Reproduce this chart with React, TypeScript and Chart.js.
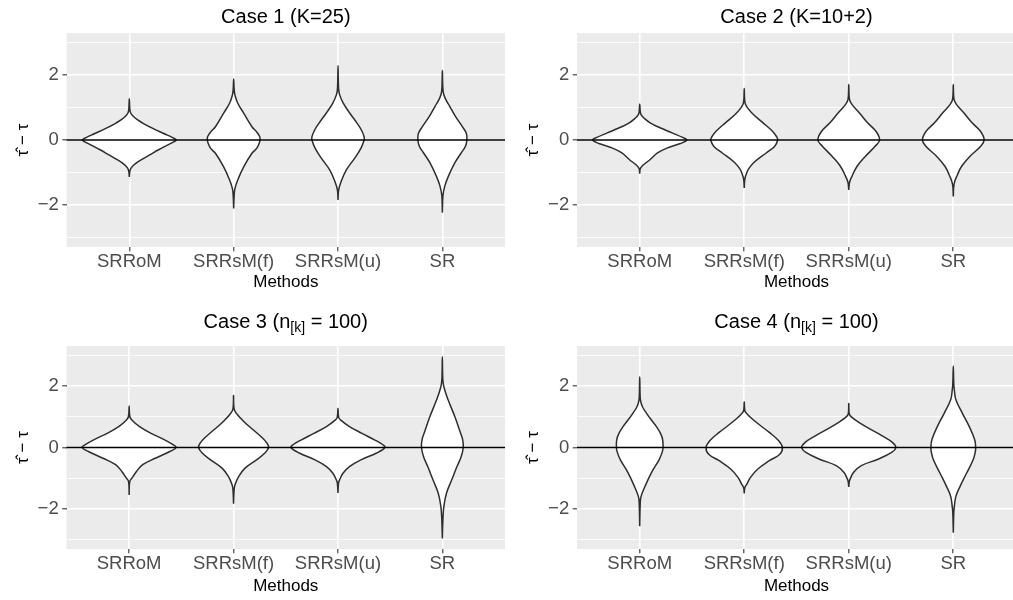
import React, { useEffect, useRef } from 'react';
import { Chart, registerables } from 'chart.js';

Chart.register(...registerables);

const FONT = '"Liberation Sans", Arial, Helvetica, sans-serif';

// ---- data ----
const METHODS = ['SRRoM', 'SRRsM(f)', 'SRRsM(u)', 'SR'];
const Y_TICKS = [-3, -2, -1, 0, 1, 2, 3];
const Y_LABELED = [-2, 0, 2];
const Y_MIN = -3.3;
const Y_MAX = 3.3;
const REF_VALUE = 0;
const Y_TITLE = '\u03C4\u0302 \u2212 \u03C4';
const X_TITLE = 'Methods';

// violin profiles: [value, half-width (category units)], bottom tip -> top tip
const CASE1_SRROM = [[-1.14, 0], [-0.95, 0.006], [-0.86, 0.018], [-0.75, 0.05], [-0.6, 0.12], [-0.45, 0.2], [-0.3, 0.28], [-0.15, 0.37], [-0.05, 0.43], [0, 0.45], [0.08, 0.41], [0.2, 0.33], [0.35, 0.23], [0.5, 0.14], [0.62, 0.08], [0.74, 0.035], [0.84, 0.012], [0.95, 0.005], [1.27, 0]];
const CASE1_SRRSMF = [[-2.11, 0], [-1.7, 0.005], [-1.5, 0.012], [-1.24, 0.038], [-0.83, 0.096], [-0.41, 0.175], [-0.26, 0.22], [-0.1, 0.245], [0, 0.252], [0.1, 0.25], [0.25, 0.22], [0.41, 0.175], [0.83, 0.096], [1.14, 0.038], [1.39, 0.012], [1.55, 0.005], [1.88, 0]];
const CASE1_SRRSMU = [[-1.85, 0], [-1.54, 0.006], [-1.28, 0.03], [-0.92, 0.08], [-0.56, 0.16], [-0.25, 0.22], [0, 0.25], [0.1, 0.25], [0.3, 0.225], [0.53, 0.18], [0.84, 0.11], [1.14, 0.05], [1.4, 0.015], [1.6, 0.005], [2.3, 0]];
const CASE1_SR = [[-2.24, 0], [-1.7, 0.006], [-1.4, 0.025], [-1.1, 0.06], [-0.7, 0.12], [-0.4, 0.18], [-0.2, 0.22], [0, 0.235], [0.2, 0.23], [0.42, 0.19], [0.73, 0.125], [1.04, 0.07], [1.3, 0.025], [1.5, 0.007], [2.14, 0]];

const CASE2_SRROM = [[-1.04, 0], [-0.88, 0.006], [-0.78, 0.03], [-0.6, 0.1], [-0.4, 0.17], [-0.25, 0.26], [-0.11, 0.39], [0, 0.45], [0.08, 0.41], [0.22, 0.31], [0.37, 0.2], [0.53, 0.1], [0.68, 0.04], [0.78, 0.013], [0.88, 0.005], [1.11, 0]];
const CASE2_SRRSMF = [[-1.48, 0], [-1.2, 0.006], [-1.05, 0.02], [-0.9, 0.04], [-0.7, 0.09], [-0.4, 0.21], [-0.2, 0.29], [0, 0.32], [0.1, 0.31], [0.27, 0.27], [0.53, 0.18], [0.78, 0.09], [1.0, 0.03], [1.15, 0.007], [1.59, 0]];
const CASE2_SRRSMU = [[-1.54, 0], [-1.3, 0.008], [-1.12, 0.03], [-0.81, 0.08], [-0.5, 0.16], [-0.2, 0.25], [0, 0.295], [0.27, 0.26], [0.53, 0.18], [0.84, 0.1], [1.1, 0.03], [1.25, 0.007], [1.71, 0]];
const CASE2_SR = [[-1.74, 0], [-1.35, 0.008], [-1.07, 0.04], [-0.81, 0.08], [-0.5, 0.16], [-0.2, 0.26], [0, 0.295], [0.27, 0.26], [0.53, 0.18], [0.84, 0.1], [1.1, 0.03], [1.25, 0.007], [1.71, 0]];

const CASE3_SRROM = [[-1.54, 0], [-1.1, 0.006], [-0.98, 0.03], [-0.78, 0.07], [-0.56, 0.13], [-0.35, 0.25], [-0.13, 0.39], [0, 0.45], [0.09, 0.42], [0.25, 0.34], [0.46, 0.21], [0.68, 0.1], [0.88, 0.03], [1.0, 0.007], [1.35, 0]];
const CASE3_SRRSMF = [[-1.83, 0], [-1.35, 0.006], [-1.2, 0.015], [-0.94, 0.05], [-0.67, 0.11], [-0.4, 0.22], [-0.18, 0.3], [0, 0.335], [0.14, 0.32], [0.3, 0.28], [0.57, 0.19], [0.84, 0.1], [1.1, 0.03], [1.25, 0.006], [1.69, 0]];
const CASE3_SRRSMU = [[-1.48, 0], [-1.15, 0.006], [-1.05, 0.016], [-0.83, 0.05], [-0.62, 0.11], [-0.4, 0.22], [-0.18, 0.37], [0, 0.45], [0.09, 0.43], [0.25, 0.35], [0.46, 0.23], [0.68, 0.11], [0.88, 0.03], [0.98, 0.007], [1.28, 0]];
const CASE3_SR = [[-2.96, 0], [-2.3, 0.006], [-1.9, 0.015], [-1.48, 0.04], [-1.05, 0.09], [-0.62, 0.14], [-0.3, 0.18], [0, 0.2], [0.25, 0.195], [0.46, 0.175], [1.0, 0.12], [1.55, 0.055], [1.95, 0.016], [2.2, 0.005], [2.95, 0]];

const CASE4_SRROM = [[-2.56, 0], [-1.8, 0.005], [-1.59, 0.013], [-1.27, 0.05], [-0.83, 0.11], [-0.4, 0.185], [-0.15, 0.215], [0, 0.223], [0.25, 0.22], [0.45, 0.2], [0.68, 0.16], [0.9, 0.11], [1.12, 0.064], [1.3, 0.03], [1.44, 0.014], [1.6, 0.005], [2.3, 0]];
const CASE4_SRRSMF = [[-1.49, 0], [-1.3, 0.006], [-1.19, 0.025], [-0.97, 0.06], [-0.7, 0.13], [-0.43, 0.24], [-0.22, 0.34], [0, 0.365], [0.22, 0.33], [0.49, 0.24], [0.7, 0.16], [0.92, 0.08], [1.1, 0.025], [1.2, 0.006], [1.49, 0]];
const CASE4_SRRSMU = [[-1.28, 0], [-1.1, 0.006], [-1.03, 0.013], [-0.81, 0.045], [-0.59, 0.12], [-0.38, 0.28], [-0.16, 0.41], [0, 0.45], [0.16, 0.42], [0.38, 0.32], [0.59, 0.21], [0.81, 0.1], [0.98, 0.03], [1.08, 0.006], [1.43, 0]];
const CASE4_SR = [[-2.77, 0], [-2.1, 0.005], [-1.92, 0.01], [-1.59, 0.025], [-1.27, 0.064], [-0.83, 0.128], [-0.4, 0.19], [-0.15, 0.21], [0, 0.214], [0.25, 0.205], [0.68, 0.153], [1.12, 0.086], [1.55, 0.025], [1.87, 0.01], [2.05, 0.005], [2.65, 0]];

type Part = { text: string; sub?: boolean };

const TITLE1: Part[] = [{ text: 'Case 1 (K=25)' }];
const TITLE2: Part[] = [{ text: 'Case 2 (K=10+2)' }];
const TITLE3: Part[] = [{ text: 'Case 3 (' }, { text: 'n' }, { text: '[k]', sub: true }, { text: ' = 100)' }];
const TITLE4: Part[] = [{ text: 'Case 4 (' }, { text: 'n' }, { text: '[k]', sub: true }, { text: ' = 100)' }];

interface Area { left: number; right: number; top: number; bottom: number }
interface PanelSpec {
  title: Part[];
  titleBaseline: number;
  profiles: number[][][];
  left: number;
  top: number;
  width: number;
  height: number;
  area: Area;
  yTitlePad: number;
  xTitlePad: number;
}

function violinPoints(profile: number[][], pos: number) {
  const right = profile.map(([v, w]) => ({ x: pos + w, y: v }));
  const left = profile
    .slice(0, -1)
    .reverse()
    .map(([v, w]) => ({ x: pos - w, y: v }));
  return right.concat(left);
}

const fmtTick = (v: number) => (v < 0 ? '\u2212' + Math.abs(v) : String(v));

const bgPlugin = {
  id: 'panelBg',
  beforeDraw(chart: any) {
    const { ctx, chartArea } = chart;
    ctx.save();
    ctx.fillStyle = '#EBEBEB';
    ctx.fillRect(chartArea.left, chartArea.top, chartArea.right - chartArea.left, chartArea.bottom - chartArea.top);
    ctx.restore();
  },
};

const refLinePlugin = {
  id: 'refLine',
  afterDatasetsDraw(chart: any) {
    const { ctx, chartArea } = chart;
    const y = chart.scales.y.getPixelForValue(REF_VALUE);
    ctx.save();
    ctx.strokeStyle = '#000000';
    ctx.lineWidth = 1.4;
    ctx.beginPath();
    ctx.moveTo(chartArea.left, y);
    ctx.lineTo(chartArea.right, y);
    ctx.stroke();
    ctx.restore();
  },
};

const mathTitlePlugin = {
  id: 'mathTitle',
  afterDraw(chart: any, _args: any, opts: any) {
    const parts: Part[] = opts.parts || [];
    const { ctx, chartArea } = chart;
    const base = 20;
    const sub = 14;
    ctx.save();
    ctx.fillStyle = '#000000';
    ctx.textBaseline = 'alphabetic';
    ctx.textAlign = 'left';
    let total = 0;
    const widths = parts.map((p) => {
      ctx.font = `${p.sub ? sub : base}px ${FONT}`;
      const w = ctx.measureText(p.text).width;
      total += w;
      return w;
    });
    let x = (chartArea.left + chartArea.right) / 2 - total / 2;
    parts.forEach((p, i) => {
      ctx.font = `${p.sub ? sub : base}px ${FONT}`;
      ctx.fillText(p.text, x, opts.baseline + (p.sub ? 4 : 0));
      x += widths[i];
    });
    ctx.restore();
  },
};

const PANELS: PanelSpec[] = [
  {
    title: TITLE1, titleBaseline: 22.7,
    profiles: [CASE1_SRROM, CASE1_SRRSMF, CASE1_SRRSMU, CASE1_SR],
    left: 0, top: 0, width: 506, height: 300,
    area: { left: 66.7, right: 505, top: 33, bottom: 247 },
    yTitlePad: 13, xTitlePad: 7.3,
  },
  {
    title: TITLE2, titleBaseline: 22.7,
    profiles: [CASE2_SRROM, CASE2_SRRSMF, CASE2_SRRSMU, CASE2_SR],
    left: 506, top: 0, width: 512, height: 300,
    area: { left: 71, right: 510, top: 33, bottom: 247 },
    yTitlePad: 17.5, xTitlePad: 7.3,
  },
  {
    title: TITLE3, titleBaseline: 28,
    profiles: [CASE3_SRROM, CASE3_SRRSMF, CASE3_SRRSMU, CASE3_SR],
    left: 0, top: 300, width: 506, height: 300,
    area: { left: 66.5, right: 505, top: 46, bottom: 249 },
    yTitlePad: 13, xTitlePad: 3.8,
  },
  {
    title: TITLE4, titleBaseline: 28,
    profiles: [CASE4_SRROM, CASE4_SRRSMF, CASE4_SRRSMU, CASE4_SR],
    left: 506, top: 300, width: 512, height: 300,
    area: { left: 71, right: 510, top: 46, bottom: 249 },
    yTitlePad: 17.5, xTitlePad: 3.8,
  },
];

function Panel({ spec }: { spec: PanelSpec }) {
  const ref = useRef<HTMLCanvasElement>(null);
  useEffect(() => {
    if (!ref.current) return;
    const s = spec;
    const chart = new Chart(ref.current, {
      type: 'line',
      data: {
        datasets: s.profiles.map((p, i) => ({
          label: METHODS[i],
          data: violinPoints(p, i),
          borderColor: '#2E2E2E',
          borderWidth: 1.5,
          backgroundColor: '#FFFFFF',
          fill: 'shape',
          tension: 0.4,
          pointRadius: 0,
          pointHoverRadius: 0,
        })),
      },
      options: {
        animation: false,
        responsive: false,
        events: [],
        layout: {
          padding: { top: s.area.top, right: s.width - s.area.right, left: 0, bottom: 0 },
        },
        plugins: {
          legend: { display: false },
          tooltip: { enabled: false },
          title: { display: false },
          mathTitle: { parts: s.title, baseline: s.titleBaseline },
        } as any,
        scales: {
          x: {
            type: 'linear',
            min: -0.6,
            max: METHODS.length - 0.4,
            afterBuildTicks: (scale: any) => {
              scale.ticks = METHODS.map((_, i) => ({ value: i }));
            },
            afterFit: (scale: any) => {
              scale.height = s.height - s.area.bottom;
            },
            border: { display: false },
            grid: {
              color: '#FFFFFF',
              lineWidth: 1.6,
              tickLength: 4.3,
              tickColor: '#333333',
              tickWidth: 1.1,
            },
            ticks: {
              autoSkip: false,
              maxRotation: 0,
              minRotation: 0,
              padding: 0,
              color: '#4D4D4D',
              font: { family: FONT, size: 18.5 },
              callback: (v: any) => METHODS[Number(v)] ?? '',
            },
            title: {
              display: true,
              text: X_TITLE,
              color: '#000000',
              font: { family: FONT, size: 17 },
              padding: { top: 0, bottom: s.xTitlePad },
            },
          },
          y: {
            type: 'linear',
            min: Y_MIN,
            max: Y_MAX,
            afterBuildTicks: (scale: any) => {
              scale.ticks = Y_TICKS.map((v) => ({ value: v }));
            },
            afterFit: (scale: any) => {
              scale.width = s.area.left;
            },
            border: { display: false },
            grid: {
              color: '#FFFFFF',
              lineWidth: (c: any) => (c.tick && Y_LABELED.includes(c.tick.value) ? 1.6 : 0.8),
              tickLength: 4.3,
              tickColor: (c: any) => (c.tick && Y_LABELED.includes(c.tick.value) ? '#333333' : 'rgba(0,0,0,0)'),
              tickWidth: 1.1,
            },
            ticks: {
              padding: 3.5,
              color: '#4D4D4D',
              font: { family: FONT, size: 18.5 },
              callback: (v: any) => (Y_LABELED.includes(Number(v)) ? fmtTick(Number(v)) : ''),
            },
            title: {
              display: true,
              text: Y_TITLE,
              color: '#000000',
              font: { family: FONT, size: 17 },
              padding: { top: s.yTitlePad, bottom: 0 },
            },
          },
        },
      } as any,
      plugins: [bgPlugin, refLinePlugin, mathTitlePlugin],
    });
    return () => chart.destroy();
  }, [spec]);
  return (
    <canvas
      ref={ref}
      width={spec.width}
      height={spec.height}
      style={{ position: 'absolute', left: spec.left, top: spec.top, width: spec.width, height: spec.height }}
    />
  );
}

export default function App() {
  return (
    <div
      style={{
        position: 'fixed',
        left: 0,
        top: 0,
        width: 1013,
        height: 600,
        overflow: 'hidden',
        background: '#FFFFFF',
      }}
    >
      {PANELS.map((p, i) => (
        <Panel key={i} spec={p} />
      ))}
    </div>
  );
}
